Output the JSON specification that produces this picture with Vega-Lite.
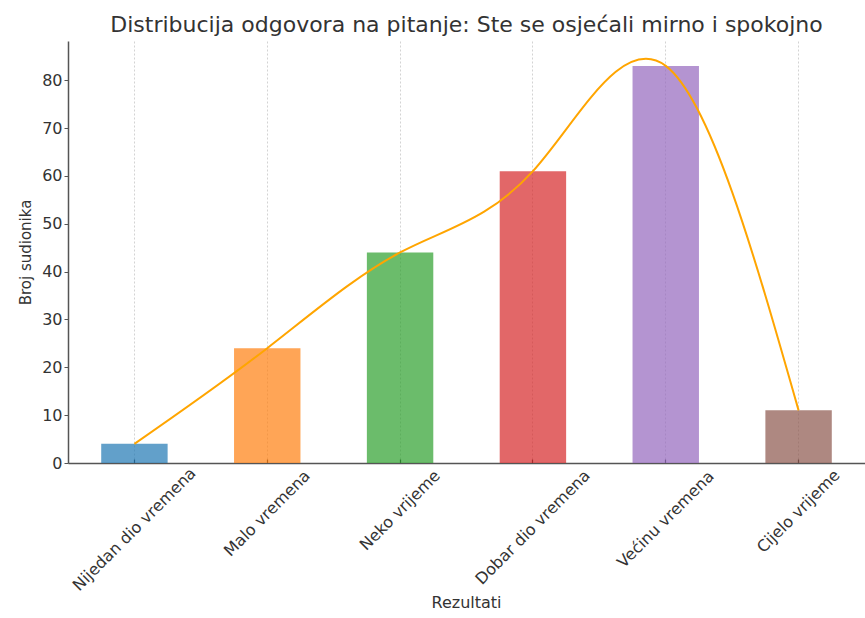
{
  "$schema": "https://vega.github.io/schema/vega-lite/v6.json",
  "autosize": "none",
  "width": 797,
  "height": 422,
  "padding": {"left": 68, "top": 41, "right": 0, "bottom": 155},
  "background": "white",
  "config": {
    "view": {"stroke": null},
    "font": "DejaVu Sans"
  },
  "title": {
    "text": "Distribucija odgovora na pitanje: Ste se osjećali mirno i spokojno",
    "fontSize": 22,
    "fontWeight": "normal",
    "color": "#333333",
    "font": "DejaVu Sans",
    "anchor": "middle",
    "baseline": "alphabetic",
    "offset": 8,
    "dy": 21
  },
  "data": {
    "values": [
      {"odgovor": "Nijedan dio vremena", "broj": 4},
      {"odgovor": "Malo vremena", "broj": 24},
      {"odgovor": "Neko vrijeme", "broj": 44},
      {"odgovor": "Dobar dio vremena", "broj": 61},
      {"odgovor": "Većinu vremena", "broj": 83},
      {"odgovor": "Cijelo vrijeme", "broj": 11}
    ]
  },
  "encoding": {
    "x": {
      "field": "odgovor",
      "type": "nominal",
      "sort": null,
      "scale": {"paddingInner": 0.5, "paddingOuter": 0.25},
      "axis": {
        "title": "Rezultati",
        "titleFontSize": 16,
        "titleFontWeight": "normal",
        "titleColor": "#333333",
        "titleX": 398,
        "titleY": 139,
        "titleAlign": "center",
        "titleBaseline": "middle",
        "labelAngle": -45,
        "labelAlign": "center",
        "labelBaseline": "middle",
        "labelFontSize": 16,
        "labelColor": "#333333",
        "labelPadding": {"expr": "datum.value=='Nijedan dio vremena'?70:datum.value=='Malo vremena'?54:datum.value=='Neko vrijeme'?51:datum.value=='Dobar dio vremena'?68:datum.value=='Većinu vremena'?60:52"},
        "labelLimit": 0,
        "labelOverlap": false,
        "labelBound": false,
        "labelFlush": false,
        "tickSize": -4,
        "tickColor": "#333333",
        "tickWidth": 1.2,
        "domainColor": "#555555",
        "domainWidth": 1.5,
        "grid": true,
        "gridColor": "#c8c8c8",
        "gridDash": [2, 2],
        "gridWidth": 0.8
      }
    },
    "y": {
      "field": "broj",
      "type": "quantitative",
      "scale": {"domain": [0, 88.2], "nice": false, "zero": true},
      "axis": {
        "title": "Broj sudionika",
        "titleFontSize": 15,
        "titleFontWeight": "normal",
        "titleColor": "#333333",
        "titleX": -43,
        "titleY": 211,
        "titleAngle": -90,
        "titleAlign": "center",
        "titleBaseline": "middle",
        "values": [0, 10, 20, 30, 40, 50, 60, 70, 80],
        "labelFontSize": 16,
        "labelColor": "#333333",
        "labelPadding": 2,
        "tickSize": 4,
        "tickColor": "#555555",
        "tickWidth": 1,
        "domainColor": "#555555",
        "domainWidth": 1.5,
        "grid": false
      }
    }
  },
  "layer": [
    {
      "mark": {"type": "bar", "fillOpacity": 0.7},
      "encoding": {
        "color": {
          "field": "odgovor",
          "type": "nominal",
          "sort": null,
          "legend": null,
          "scale": {
            "domain": ["Nijedan dio vremena", "Malo vremena", "Neko vrijeme", "Dobar dio vremena", "Većinu vremena", "Cijelo vrijeme"],
            "range": ["#1f77b4", "#ff7f0e", "#2ca02c", "#d62728", "#9467bd", "#8c564b"]
          }
        }
      }
    },
    {
      "mark": {"type": "line", "interpolate": "natural", "color": "#FFA500", "strokeWidth": 2},
      "encoding": {}
    }
  ]
}
